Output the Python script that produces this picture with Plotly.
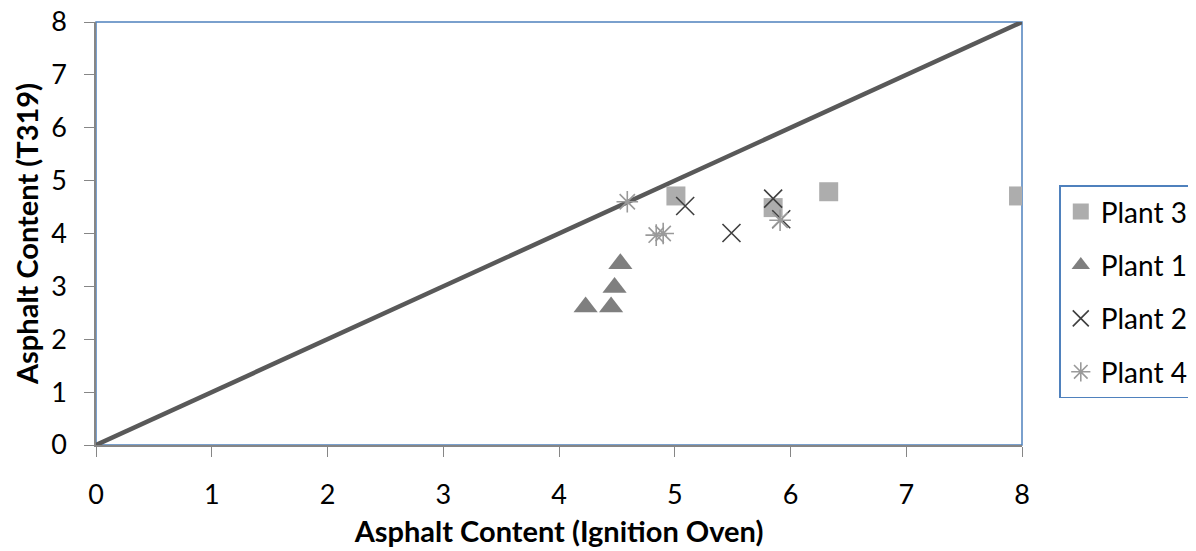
import plotly.graph_objects as go

# Data
plant3_x = [5.01, 5.85, 6.33, 7.97]
plant3_y = [4.71, 4.49, 4.79, 4.71]
plant1_x = [4.53, 4.48, 4.23, 4.45]
plant1_y = [3.43, 2.98, 2.61, 2.61]
plant2_x = [5.09, 5.49, 5.85, 5.92]
plant2_y = [4.52, 4.01, 4.66, 4.27]
plant4_x = [4.59, 4.84, 4.90, 5.91]
plant4_y = [4.60, 3.97, 4.00, 4.25]
line_x = [0, 8]
line_y = [0, 8]

FONT = "Lato"

fig = go.Figure()
fig.add_trace(go.Scatter(x=line_x, y=line_y, mode="lines",
                         line=dict(color="#595959", width=4.5), showlegend=False,
                         hoverinfo="skip"))
fig.add_trace(go.Scatter(x=plant3_x, y=plant3_y, mode="markers", name="Plant 3",
                         legendgroup="p3",
                         marker=dict(symbol="square", size=19, color="#ADADAD",
                                     line=dict(width=0))))
fig.add_trace(go.Scatter(x=plant1_x, y=plant1_y, mode="markers", name="Plant 1",
                         legendgroup="p1",
                         marker=dict(symbol="triangle-up", size=21, color="#7F7F7F",
                                     line=dict(width=0))))
fig.add_trace(go.Scatter(x=plant2_x, y=plant2_y, mode="markers", name="Plant 2",
                         legendgroup="p2",
                         marker=dict(symbol="x-thin-open", size=18, color="#404040",
                                     line=dict(width=1.6, color="#404040"))))
fig.add_trace(go.Scatter(x=plant4_x, y=plant4_y, mode="markers", name="Plant 4",
                         legendgroup="p4",
                         marker=dict(symbol="asterisk-open", size=18, color="#9A9A9A",
                                     line=dict(width=1.6, color="#9A9A9A"))))

fig.update_layout(
    width=1196, height=551,
    margin=dict(l=88, r=182, t=14, b=114, autoexpand=False),
    paper_bgcolor="white", plot_bgcolor="white",
    font=dict(family=FONT, size=28, color="black"),
    shapes=[dict(type="rect", xref="paper", yref="paper", x0=0, y0=0, x1=1, y1=1,
                 line=dict(color="#4F81BD", width=1.5), layer="below")],
    legend=dict(xref="container", yref="container", x=0.879, y=0.678,
                xanchor="left", yanchor="top",
                bordercolor="#4F81BD", borderwidth=1.5, bgcolor="white",
                font=dict(family=FONT, size=28), tracegroupgap=14,
                itemwidth=30),
)
fig.update_xaxes(range=[0, 8], dtick=1, showgrid=False, zeroline=False,
                 showline=True, linecolor="#868686", linewidth=1.5,
                 ticks="outside", ticklen=10, tickcolor="#868686",
                 tickfont=dict(family=FONT, size=27),
                 ticklabelstandoff=15, automargin=False, ticklabeloverflow="allow",
                 title=dict(text="<b>Asphalt Content (Ignition Oven)</b>",
                            font=dict(family=FONT, size=29), standoff=13))
fig.update_yaxes(range=[0, 8], dtick=1, showgrid=False, zeroline=False,
                 showline=True, linecolor="#868686", linewidth=1.5,
                 ticks="outside", ticklen=10, tickcolor="#868686",
                 tickfont=dict(family=FONT, size=27),
                 ticklabelstandoff=12, automargin=False, ticklabeloverflow="allow",
                 title=dict(text="<b>Asphalt Content (T319)</b>",
                            font=dict(family=FONT, size=29), standoff=4))

fig.write_html("out.html")
